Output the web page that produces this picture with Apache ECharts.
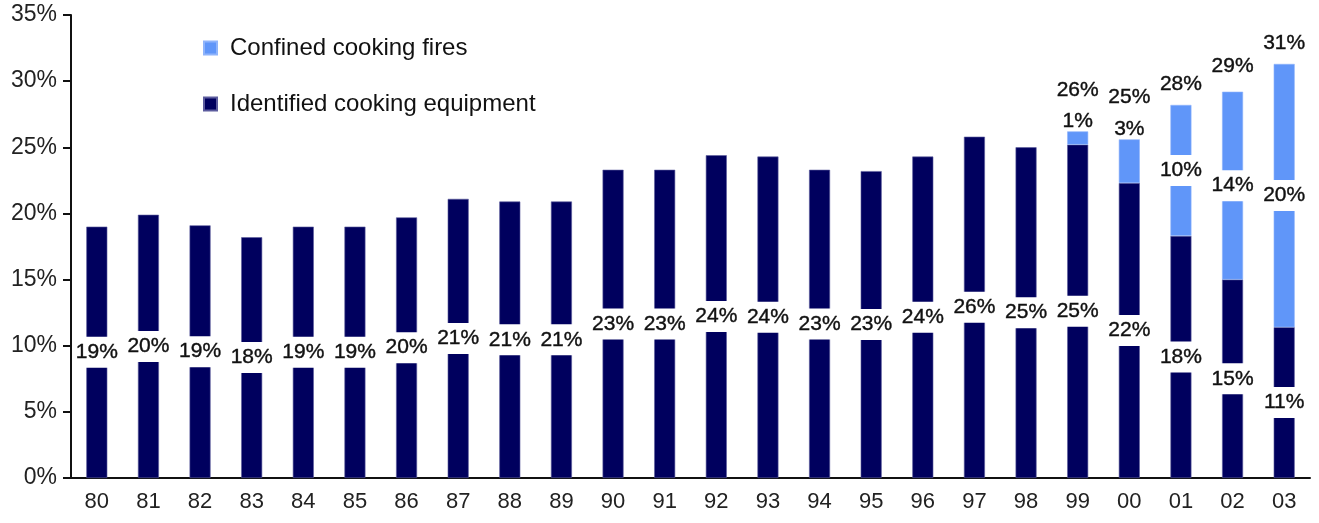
<!DOCTYPE html>
<html lang="en">
<head>
<meta charset="UTF-8">
<title>Cooking fires share</title>
<script src="https://cdn.jsdelivr.net/npm/echarts@6/dist/echarts.min.js"></script>
<style>
html, body { margin: 0; padding: 0; background: #fff; }
#chart { width: 1319px; height: 523px; }
</style>
</head>
<body>
<div id="chart"></div>
<script>
// data
const years = ['80','81','82','83','84','85','86','87','88','89','90','91','92','93','94','95','96','97','98','99','00','01','02','03'];
const equipment = [19.0, 19.9, 19.1, 18.2, 19.0, 19.0, 19.7, 21.1, 20.9, 20.9, 23.3, 23.3, 24.4, 24.3, 23.3, 23.2, 24.3, 25.8, 25.0, 25.2, 22.3, 18.3, 15.0, 11.4];
const confined = [null, null, null, null, null, null, null, null, null, null, null, null, null, null, null, null, null, null, null, 1.0, 3.3, 9.9, 14.2, 19.9];
const totalText = [null, null, null, null, null, null, null, null, null, null, null, null, null, null, null, null, null, null, null, '26%', '25%', '28%', '29%', '31%'];
const yTicks = { min: 0, max: 35, step: 5 };

const navy = '#00005e';
const lightBlue = '#6096f9';
const font = '"Liberation Sans", Arial, sans-serif';

const segLabel = {
  show: true,
  position: 'inside',
  color: '#111',
  fontFamily: font,
  fontSize: 21,
  textBorderColor: '#111',
  textBorderWidth: 0.4,
  backgroundColor: '#fff',
  padding: [5, 1],
  formatter: p => Math.round(p.value) + '%'
};

// small light segments get their label above the bar
const confinedData = confined.map(v => {
  if (v == null) return null;
  if (v < 5) return { value: v, label: { position: 'top', distance: 0, backgroundColor: 'transparent', padding: 0 } };
  return v;
});

const totalGap = { '99': 31, '00': 32, '01': 10, '02': 15, '03': 10 };
const totalData = years.map((y, i) => {
  if (totalText[i] == null) return null;
  return { value: equipment[i] + confined[i], label: { distance: totalGap[y] } };
});

const chart = echarts.init(document.getElementById('chart'));
chart.setOption({
  animation: false,
  grid: { left: 71, right: 9, top: 15, bottom: 45 },
  legend: {
    data: ['Confined cooking fires', 'Identified cooking equipment'],
    orient: 'vertical',
    left: 198,
    top: 31,
    icon: 'rect',
    itemWidth: 13,
    itemHeight: 13,
    itemGap: 32,
    textStyle: { fontFamily: font, fontSize: 24, color: '#111', padding: [0, 0, 0, 8] }
  },
  xAxis: {
    type: 'category',
    data: years,
    axisLine: { lineStyle: { color: '#111', width: 2 } },
    axisTick: { length: 8, lineStyle: { color: '#111', width: 2 } },
    axisLabel: { fontFamily: font, fontSize: 22, color: '#222', margin: 13 }
  },
  yAxis: {
    type: 'value',
    min: yTicks.min,
    max: yTicks.max,
    interval: yTicks.step,
    splitLine: { show: false },
    axisLine: { show: true, lineStyle: { color: '#111', width: 2 } },
    axisTick: { show: true, length: 8, lineStyle: { color: '#111', width: 2 } },
    axisLabel: { fontFamily: font, fontSize: 23, color: '#222', margin: 14, formatter: '{value}%' }
  },
  series: [
    {
      name: 'Identified cooking equipment',
      type: 'bar',
      stack: 'share',
      barWidth: 21,
      data: equipment,
      itemStyle: { color: navy, borderColor: '#5c5c9e', borderWidth: 0.6 },
      label: segLabel
    },
    {
      name: 'Confined cooking fires',
      type: 'bar',
      stack: 'share',
      barWidth: 21,
      data: confinedData,
      itemStyle: { color: lightBlue, borderColor: '#8fb4fb', borderWidth: 0.6 },
      label: segLabel
    },
    {
      name: 'total',
      type: 'scatter',
      symbolSize: 0,
      data: totalData,
      itemStyle: { opacity: 1, color: '#111' },
      label: {
        show: true,
        position: 'top',
        color: '#111',
        fontFamily: font,
        fontSize: 21,
        textBorderColor: '#111',
        textBorderWidth: 0.4,
        formatter: p => totalText[p.dataIndex]
      }
    }
  ]
});
</script>
</body>
</html>
